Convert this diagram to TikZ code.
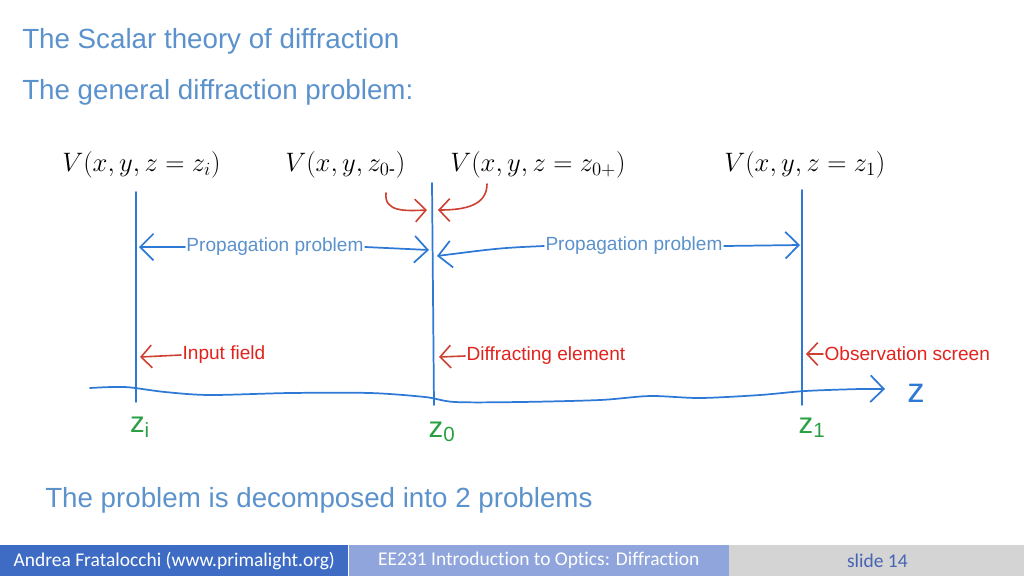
\RequirePackage{fix-cm}
\documentclass[tikz,border=0pt]{standalone}
\usepackage{amsmath}
\usepackage{fontspec}
\setmainfont{Liberation Sans}
\newfontfamily\footfont[Ligatures=NoCommon]{Carlito}
\usepackage{xcolor}
\usepackage{tikz}
\usetikzlibrary{positioning,arrows.meta}

\definecolor{titleblue}{RGB}{91,146,204}
\definecolor{penblue}{RGB}{46,120,214}
\definecolor{penred}{RGB}{205,65,50}
\definecolor{labred}{RGB}{225,35,30}
\definecolor{pengreen}{RGB}{40,160,65}
\definecolor{footdark}{RGB}{62,108,196}
\definecolor{footmid}{RGB}{143,165,220}
\definecolor{footgray}{RGB}{212,212,212}
\definecolor{slideblue}{RGB}{70,100,180}

\begin{document}
\begin{tikzpicture}[x=0.75pt, y=-0.75pt,
	heading/.style={anchor=west, inner sep=0pt, text=titleblue, font=\fontsize{20.8}{24}\selectfont},
	field/.style={anchor=west, inner sep=0pt, font=\fontsize{20}{24}\selectfont},
	pen/.style={penblue, line width=1.3pt, line cap=round},
	bluehead/.style={-{Straight Barb[length=10pt,width=20pt]}},
	proplabel/.style={inner sep=1pt, text=titleblue, font=\fontsize{14.3}{16}\selectfont},
	redlabel/.style={anchor=west, inner sep=1pt, text=labred, font=\fontsize{14.3}{16}\selectfont},
	redpen/.style={penred, line width=1.2pt, line cap=round, -{Straight Barb[length=8pt,width=17pt]}},
	zlabel/.style={text=pengreen, font=\fontsize{22}{24}\selectfont},
	footbox/.style={anchor=north west, inner sep=0pt, minimum height=23.25pt, font=\footfont\fontsize{14.6}{18}\selectfont}
	]
	\useasboundingbox (0,0) rectangle (1024,576);
	
	% headings
	\node[heading] (title) at (22,41) {The Scalar theory of diffraction};
	\node[heading] (subtitle) at (22,92) {The general diffraction problem:};
	\node[heading] (summary) at (45,500) {The problem is decomposed into 2 problems};
	
	% fields
	\node[field] (vi) at (62,165) {$V(x,y,z=z_i)$};
	\node[field] (vzm) at (285,165) {$V(x,y,z_{0\text{-}})$};
	\node[field] (vzp) at (450,165) {$V(x,y,z=z_{0+})$};
	\node[field] (vone) at (724,165) {$V(x,y,z=z_1)$};
	
	% planes
	\coordinate (iTop) at (136,192);
	\coordinate (iBot) at (136,402);
	\coordinate (oTop) at (432,183);
	\coordinate (oBot) at (434,405);
	\coordinate (sTop) at (802,190);
	\coordinate (sBot) at (802,405);
	\draw[pen] (iTop) -- (iBot);
	\draw[pen] (oTop) -- (oBot);
	\draw[pen] (sTop) -- (sBot);
	
	% z axis
	\draw[pen, bluehead] plot[smooth] coordinates {(90,388) (125,387) (165,392) (210,395) (290,393) (370,393) (425,397) (455,402) (520,402) (600,400) (650,396) (700,398) (760,395) (805,391) (860,389) (885,389)};
	\node[text=penblue, font=\fontsize{26}{28}\selectfont] (zaxis) at (916,393) {z};
	
	% positions
	\node[zlabel] (zi) at (140,427) {z\textsubscript{i}};
	\node[zlabel] (zo) at (442,432) {z\textsubscript{0}};
	\node[zlabel] (zone) at (812,428) {z\textsubscript{1}};
	
	% just before / after the element
	\coordinate (mFrom) at (386,193);
	\coordinate (mTo) at (427,210);
	\coordinate (pFrom) at (487,184);
	\coordinate (pTo) at (438,210);
	\draw[redpen] (mFrom) .. controls (384,212) and (405,211) .. (mTo);
	\draw[redpen] (pFrom) .. controls (487,205) and (466,210) .. (pTo);
	
	% propagation problems
	\node[proplabel] (propA) at (275,247) {Propagation problem};
	\node[proplabel] (propB) at (634,246) {Propagation problem};
	\coordinate (iProp) at (139,247);
	\coordinate (oPropL) at (429,250);
	\coordinate (oPropR) at (437,256);
	\coordinate (sProp) at (800,245);
	\draw[pen, bluehead] (propA.west) -- (iProp);
	\draw[pen, bluehead] (propA.east) -- (oPropL);
	\draw[pen, bluehead] (propB.west) .. controls (500,248) .. (oPropR);
	\draw[pen, bluehead] (propB.east) -- (sProp);
	
	% what the planes are
	\node[redlabel] (input) at (181,355) {Input field};
	\node[redlabel] (element) at (465,356) {Diffracting element};
	\node[redlabel] (screen) at (823,354) {Observation screen};
	\coordinate (iMark) at (140,357);
	\coordinate (oMark) at (439,357);
	\coordinate (sMark) at (806,354);
	\draw[redpen] (input.west) -- (iMark);
	\draw[redpen] (element.west) -- (oMark);
	\draw[redpen] (screen.west) -- (sMark);
	
	% footer
	\node[footbox, fill=footdark, text=white, minimum width=261pt] (fauthor) at (0,545) {Andrea Fratalocchi (www.primalight.org)};
	\node[footbox, fill=footmid, text=white, minimum width=285pt, right=0pt of fauthor] (fcourse) {EE231 Introduction to Optics: Diffraction};
	\node[footbox, fill=footgray, text=slideblue, minimum width=222pt, right=0pt of fcourse] (fslide) {slide 14};
\end{tikzpicture}
\end{document}
